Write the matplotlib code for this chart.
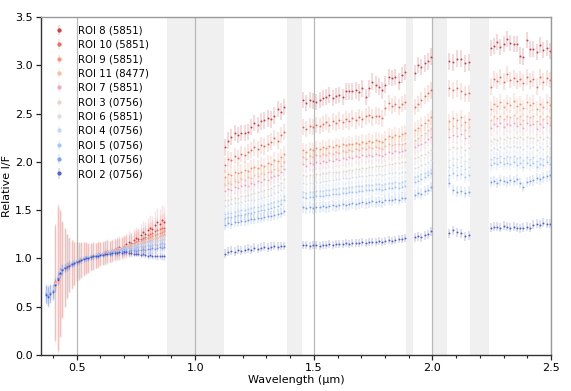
import numpy as np
import matplotlib
matplotlib.use("Agg")
import matplotlib.pyplot as plt
from matplotlib.ticker import MultipleLocator, FormatStrFormatter
from matplotlib.colors import to_rgba

# ---------------- data ----------------
labels = ["ROI 8 (5851)", "ROI 10 (5851)", "ROI 9 (5851)", "ROI 11 (8477)", "ROI 7 (5851)",
          "ROI 3 (0756)", "ROI 6 (5851)", "ROI 4 (0756)", "ROI 5 (0756)", "ROI 1 (0756)", "ROI 2 (0756)"]
colors = ["#c8232f", "#ea5a48", "#f5875f", "#f8b596", "#eb9fb6",
          "#e0d2ca", "#d3d9e4", "#bcd0f0", "#9bbcf6", "#6a93ee", "#3a4cc6"]
vis_group = ["red", "red", "red", "red", "red", "blue", "red", "blue", "blue", "blue", "blue"]

# visible wavelength grids (µm)
wl_vis_blue = np.round(np.arange(0.37, 0.875, 0.01), 2)   # 51 pts
wl_vis_red = np.round(np.arange(0.41, 0.875, 0.01), 2)    # 47 pts
# near-IR wavelength grid (µm), five windows between telluric bands
wl_nir = np.concatenate([np.linspace(1.125, 1.375, 19), np.linspace(1.455, 1.885, 32),
                         np.linspace(1.925, 1.995, 6), np.linspace(2.07, 2.155, 6),
                         np.linspace(2.245, 2.495, 19)])

bands = [(0.88, 1.12), (1.387, 1.45), (1.89, 1.92), (2.0, 2.062), (2.16, 2.24)]

roi8_vis = [0.74, 0.78, 0.84, 0.88, 0.91, 0.92, 0.94, 0.93, 0.95, 0.97,
            0.98, 0.99, 1.00, 1.01, 1.00, 1.02, 1.03, 1.03, 1.05, 1.05,
            1.06, 1.07, 1.08, 1.07, 1.09, 1.10, 1.11, 1.12, 1.11, 1.13,
            1.15, 1.17, 1.16, 1.19, 1.21, 1.20, 1.24, 1.27, 1.25, 1.29,
            1.32, 1.30, 1.35, 1.38, 1.36, 1.40, 1.38]
roi10_vis = [0.76, 0.80, 0.85, 0.89, 0.90, 0.92, 0.93, 0.94, 0.95, 0.97,
             0.97, 0.99, 1.00, 1.00, 1.01, 1.02, 1.02, 1.03, 1.04, 1.05,
             1.05, 1.06, 1.07, 1.07, 1.08, 1.09, 1.10, 1.10, 1.11, 1.12,
             1.13, 1.14, 1.15, 1.16, 1.17, 1.18, 1.20, 1.21, 1.22, 1.24,
             1.25, 1.26, 1.28, 1.29, 1.30, 1.31, 1.32]
roi9_vis = [0.77, 0.81, 0.86, 0.89, 0.91, 0.92, 0.93, 0.95, 0.96, 0.97,
            0.98, 0.99, 1.00, 1.01, 1.01, 1.02, 1.03, 1.03, 1.04, 1.05,
            1.05, 1.06, 1.07, 1.07, 1.08, 1.09, 1.09, 1.10, 1.11, 1.12,
            1.12, 1.13, 1.14, 1.15, 1.16, 1.17, 1.18, 1.19, 1.20, 1.21,
            1.22, 1.23, 1.24, 1.25, 1.26, 1.27, 1.28]
roi11_vis = [0.70, 0.76, 0.83, 0.88, 0.90, 0.92, 0.93, 0.94, 0.95, 0.96,
             0.97, 0.98, 0.99, 1.00, 1.01, 1.01, 1.02, 1.03, 1.03, 1.04,
             1.05, 1.05, 1.06, 1.07, 1.07, 1.08, 1.09, 1.09, 1.10, 1.11,
             1.11, 1.12, 1.13, 1.14, 1.14, 1.15, 1.16, 1.17, 1.17, 1.18,
             1.19, 1.20, 1.20, 1.21, 1.22, 1.23, 1.24]
roi7_vis = [0.75, 0.80, 0.85, 0.88, 0.90, 0.91, 0.93, 0.94, 0.95, 0.96,
            0.97, 0.98, 0.99, 1.00, 1.00, 1.01, 1.02, 1.03, 1.03, 1.04,
            1.05, 1.05, 1.06, 1.06, 1.07, 1.08, 1.08, 1.09, 1.10, 1.10,
            1.11, 1.12, 1.13, 1.13, 1.14, 1.15, 1.16, 1.17, 1.18, 1.18,
            1.19, 1.20, 1.21, 1.22, 1.23, 1.24, 1.25]
roi3_vis = [0.66, 0.64, 0.67, 0.69, 0.75, 0.81, 0.87, 0.90, 0.92, 0.93,
            0.94, 0.95, 0.97, 0.98, 0.99, 1.00, 1.01, 1.01, 1.02, 1.03,
            1.04, 1.04, 1.05, 1.06, 1.07, 1.07, 1.08, 1.09, 1.09, 1.10,
            1.11, 1.11, 1.12, 1.13, 1.13, 1.14, 1.15, 1.15, 1.16, 1.17,
            1.17, 1.18, 1.19, 1.19, 1.20, 1.20, 1.21, 1.22, 1.22, 1.23,
            1.23]
roi6_vis = [0.75, 0.80, 0.85, 0.88, 0.90, 0.91, 0.92, 0.93, 0.95, 0.96,
            0.97, 0.97, 0.98, 0.99, 1.00, 1.01, 1.01, 1.02, 1.03, 1.03,
            1.04, 1.05, 1.05, 1.06, 1.06, 1.07, 1.08, 1.08, 1.09, 1.09,
            1.10, 1.11, 1.11, 1.12, 1.13, 1.13, 1.14, 1.15, 1.15, 1.16,
            1.17, 1.17, 1.18, 1.18, 1.19, 1.20, 1.20]
roi4_vis = [0.65, 0.63, 0.66, 0.68, 0.74, 0.81, 0.86, 0.89, 0.91, 0.93,
            0.94, 0.95, 0.96, 0.97, 0.98, 0.99, 1.00, 1.01, 1.02, 1.02,
            1.03, 1.04, 1.04, 1.05, 1.06, 1.06, 1.07, 1.08, 1.08, 1.09,
            1.09, 1.10, 1.11, 1.11, 1.12, 1.12, 1.13, 1.13, 1.14, 1.15,
            1.15, 1.16, 1.16, 1.17, 1.17, 1.18, 1.18, 1.19, 1.19, 1.20,
            1.20]
roi5_vis = [0.64, 0.62, 0.65, 0.67, 0.74, 0.80, 0.86, 0.89, 0.91, 0.92,
            0.93, 0.94, 0.96, 0.97, 0.98, 0.99, 1.00, 1.00, 1.01, 1.02,
            1.02, 1.03, 1.04, 1.04, 1.05, 1.06, 1.06, 1.07, 1.07, 1.08,
            1.08, 1.09, 1.09, 1.10, 1.10, 1.11, 1.11, 1.11, 1.12, 1.12,
            1.13, 1.12, 1.13, 1.14, 1.13, 1.14, 1.15, 1.14, 1.15, 1.16,
            1.15]
roi1_vis = [0.63, 0.61, 0.64, 0.66, 0.73, 0.80, 0.85, 0.89, 0.90, 0.92,
            0.93, 0.94, 0.95, 0.96, 0.97, 0.98, 0.99, 1.00, 1.00, 1.01,
            1.02, 1.02, 1.03, 1.04, 1.04, 1.05, 1.05, 1.06, 1.06, 1.07,
            1.07, 1.07, 1.08, 1.08, 1.08, 1.08, 1.09, 1.09, 1.08, 1.09,
            1.09, 1.10, 1.09, 1.10, 1.10, 1.11, 1.10, 1.11, 1.12, 1.11,
            1.12]
roi2_vis = [0.62, 0.60, 0.63, 0.65, 0.72, 0.79, 0.85, 0.88, 0.90, 0.91,
            0.92, 0.94, 0.95, 0.96, 0.97, 0.98, 0.99, 1.00, 1.00, 1.01,
            1.02, 1.02, 1.03, 1.04, 1.04, 1.05, 1.05, 1.05, 1.06, 1.06,
            1.06, 1.07, 1.06, 1.07, 1.07, 1.06, 1.06, 1.05, 1.05, 1.05,
            1.04, 1.05, 1.04, 1.03, 1.04, 1.03, 1.03, 1.02, 1.03, 1.02,
            1.02]

roi8_nir = [2.15, 2.22, 2.26, 2.30, 2.28, 2.30, 2.30, 2.31, 2.36, 2.40, 2.38, 2.42, 2.43, 2.45, 2.44, 2.48, 2.55, 2.52, 2.57,
            2.64, 2.61, 2.64, 2.63, 2.62, 2.64, 2.66, 2.67, 2.69, 2.66, 2.68, 2.69, 2.67, 2.73, 2.73, 2.73,
            2.74, 2.72, 2.76, 2.67, 2.76, 2.83, 2.80, 2.78, 2.74, 2.80, 2.88, 2.87, 2.88, 2.83, 2.90, 2.93,
            2.92, 3.00, 2.98, 3.02, 3.04, 3.09,
            3.04, 3.03, 3.07, 3.07, 3.02, 3.03,
            3.18, 3.20, 3.24, 3.19, 3.22, 3.27, 3.23, 3.22, 3.22, 3.10, 3.09, 3.26, 3.17, 3.17, 3.14, 3.21, 3.16, 3.18, 3.15]
roi10_nir = [1.97, 2.03, 2.02, 2.06, 2.04, 2.08, 2.07, 2.10, 2.12, 2.15, 2.13, 2.17, 2.16, 2.19, 2.21, 2.25, 2.22, 2.28, 2.31,
             2.36, 2.34, 2.37, 2.36, 2.38, 2.37, 2.39, 2.41, 2.38, 2.42, 2.40, 2.43, 2.41, 2.44, 2.42, 2.45,
             2.43, 2.46, 2.44, 2.47, 2.49, 2.46, 2.48, 2.47, 2.45, 2.56, 2.61, 2.58, 2.60, 2.57, 2.60, 2.62,
             2.57, 2.60, 2.64, 2.68, 2.71, 2.74,
             2.76, 2.74, 2.76, 2.73, 2.70, 2.71,
             2.78, 2.86, 2.84, 2.88, 2.83, 2.91, 2.85, 2.87, 2.84, 2.86, 2.82, 2.88, 2.84, 2.86, 2.78, 2.88, 2.83, 2.87, 2.85]
roi9_nir = [1.84, 1.87, 1.86, 1.89, 1.88, 1.90, 1.92, 1.91, 1.94, 1.95, 1.94, 1.97, 1.96, 1.99, 1.98, 2.02, 2.01, 2.05, 2.08,
            2.12, 2.10, 2.13, 2.12, 2.14, 2.13, 2.15, 2.14, 2.16, 2.15, 2.17, 2.16, 2.18, 2.17, 2.19, 2.18,
            2.20, 2.19, 2.21, 2.20, 2.22, 2.21, 2.23, 2.22, 2.21, 2.24, 2.27, 2.26, 2.28, 2.27, 2.29, 2.30,
            2.33, 2.35, 2.38, 2.40, 2.43, 2.46,
            2.42, 2.45, 2.43, 2.46, 2.41, 2.44,
            2.55, 2.60, 2.58, 2.62, 2.57, 2.61, 2.59, 2.63, 2.58, 2.60, 2.56, 2.62, 2.59, 2.61, 2.55, 2.60, 2.57, 2.62, 2.59]
roi11_nir = [1.76, 1.78, 1.77, 1.80, 1.79, 1.82, 1.81, 1.84, 1.83, 1.86, 1.85, 1.88, 1.87, 1.90, 1.89, 1.93, 1.92, 1.96, 2.00,
             2.05, 2.03, 2.06, 2.05, 2.07, 2.06, 2.08, 2.07, 2.09, 2.08, 2.10, 2.09, 2.11, 2.10, 2.12, 2.11,
             2.13, 2.12, 2.14, 2.13, 2.15, 2.14, 2.15, 2.14, 2.13, 2.16, 2.18, 2.17, 2.19, 2.18, 2.19, 2.20,
             2.23, 2.25, 2.28, 2.30, 2.33, 2.35,
             2.34, 2.37, 2.35, 2.38, 2.33, 2.36,
             2.43, 2.47, 2.45, 2.48, 2.44, 2.47, 2.46, 2.49, 2.45, 2.47, 2.43, 2.48, 2.46, 2.47, 2.42, 2.47, 2.44, 2.48, 2.46]
roi7_nir = [1.70, 1.72, 1.71, 1.74, 1.73, 1.75, 1.76, 1.75, 1.78, 1.77, 1.80, 1.79, 1.82, 1.81, 1.84, 1.85, 1.86, 1.89, 1.93,
            1.98, 1.96, 1.99, 1.98, 2.00, 1.99, 2.01, 2.00, 2.02, 2.01, 2.03, 2.02, 2.04, 2.03, 2.05, 2.04,
            2.06, 2.05, 2.07, 2.06, 2.07, 2.06, 2.08, 2.07, 2.06, 2.08, 2.10, 2.09, 2.11, 2.10, 2.11, 2.12,
            2.15, 2.17, 2.19, 2.21, 2.24, 2.26,
            2.26, 2.28, 2.27, 2.29, 2.25, 2.27,
            2.35, 2.39, 2.37, 2.40, 2.36, 2.39, 2.38, 2.40, 2.37, 2.39, 2.35, 2.40, 2.38, 2.39, 2.34, 2.39, 2.36, 2.40, 2.38]
roi3_nir = [1.60, 1.61, 1.62, 1.63, 1.63, 1.65, 1.65, 1.66, 1.67, 1.68, 1.69, 1.70, 1.71, 1.72, 1.73, 1.75, 1.76, 1.78, 1.82,
            1.86, 1.85, 1.86, 1.86, 1.87, 1.87, 1.88, 1.88, 1.89, 1.89, 1.90, 1.90, 1.91, 1.91, 1.92, 1.92,
            1.93, 1.93, 1.94, 1.94, 1.95, 1.95, 1.96, 1.96, 1.96, 1.97, 1.98, 1.98, 1.99, 1.99, 2.00, 2.00,
            2.04, 2.05, 2.07, 2.08, 2.10, 2.12,
            2.13, 2.15, 2.14, 2.15, 2.12, 2.14,
            2.22, 2.24, 2.23, 2.25, 2.24, 2.26, 2.25, 2.26, 2.25, 2.26, 2.24, 2.26, 2.25, 2.25, 2.23, 2.26, 2.24, 2.26, 2.25]
roi6_nir = [1.54, 1.55, 1.56, 1.57, 1.57, 1.58, 1.59, 1.60, 1.60, 1.61, 1.62, 1.63, 1.64, 1.65, 1.66, 1.68, 1.69, 1.71, 1.74,
            1.78, 1.77, 1.78, 1.78, 1.79, 1.79, 1.80, 1.80, 1.81, 1.81, 1.82, 1.82, 1.83, 1.83, 1.83, 1.84,
            1.84, 1.85, 1.85, 1.85, 1.86, 1.86, 1.86, 1.87, 1.86, 1.87, 1.88, 1.88, 1.89, 1.88, 1.89, 1.90,
            1.94, 1.95, 1.97, 1.98, 2.00, 2.02,
            2.02, 2.04, 2.03, 2.05, 2.01, 2.03,
            2.12, 2.14, 2.13, 2.15, 2.14, 2.16, 2.15, 2.16, 2.15, 2.15, 2.13, 2.16, 2.14, 2.15, 2.12, 2.15, 2.13, 2.16, 2.14]
roi4_nir = [1.46, 1.47, 1.47, 1.48, 1.49, 1.50, 1.50, 1.51, 1.52, 1.53, 1.53, 1.54, 1.55, 1.56, 1.57, 1.58, 1.59, 1.61, 1.65,
            1.69, 1.68, 1.69, 1.69, 1.70, 1.70, 1.70, 1.71, 1.71, 1.72, 1.72, 1.73, 1.73, 1.73, 1.74, 1.74,
            1.75, 1.75, 1.75, 1.76, 1.76, 1.76, 1.77, 1.77, 1.76, 1.77, 1.78, 1.78, 1.79, 1.78, 1.79, 1.80,
            1.84, 1.85, 1.87, 1.88, 1.90, 1.92,
            1.95, 1.97, 1.95, 1.96, 1.93, 1.95,
            2.03, 2.05, 2.04, 2.06, 2.04, 2.06, 2.05, 2.06, 2.04, 2.05, 2.02, 2.05, 2.03, 2.05, 2.01, 2.04, 2.03, 2.06, 2.05]
roi5_nir = [1.42, 1.43, 1.43, 1.44, 1.45, 1.45, 1.46, 1.47, 1.47, 1.48, 1.49, 1.50, 1.50, 1.51, 1.52, 1.53, 1.54, 1.56, 1.60,
            1.64, 1.63, 1.64, 1.64, 1.65, 1.65, 1.65, 1.66, 1.66, 1.67, 1.67, 1.67, 1.68, 1.68, 1.69, 1.69,
            1.69, 1.70, 1.70, 1.71, 1.71, 1.71, 1.72, 1.72, 1.71, 1.72, 1.73, 1.73, 1.74, 1.73, 1.74, 1.75,
            1.79, 1.80, 1.82, 1.84, 1.86, 1.88,
            1.86, 1.88, 1.86, 1.87, 1.84, 1.86,
            1.97, 1.99, 1.98, 2.00, 1.98, 1.99, 1.98, 2.00, 1.97, 1.99, 1.95, 1.99, 1.97, 1.99, 1.95, 1.98, 1.97, 2.00, 1.98]
roi1_nir = [1.35, 1.37, 1.36, 1.38, 1.38, 1.39, 1.39, 1.40, 1.41, 1.41, 1.42, 1.42, 1.43, 1.44, 1.44, 1.45, 1.46, 1.47, 1.49,
            1.53, 1.52, 1.53, 1.52, 1.53, 1.53, 1.54, 1.53, 1.54, 1.55, 1.54, 1.55, 1.56, 1.55, 1.56, 1.57,
            1.56, 1.57, 1.58, 1.57, 1.58, 1.59, 1.58, 1.59, 1.58, 1.60, 1.61, 1.60, 1.62, 1.61, 1.63, 1.63,
            1.66, 1.68, 1.67, 1.70, 1.71, 1.74,
            1.78, 1.71, 1.69, 1.70, 1.68, 1.69,
            1.79, 1.80, 1.78, 1.81, 1.80, 1.79, 1.81, 1.80, 1.82, 1.78, 1.74, 1.79, 1.80, 1.81, 1.83, 1.82, 1.84, 1.85, 1.86]
roi2_nir = [1.05, 1.07, 1.08, 1.07, 1.09, 1.08, 1.09, 1.10, 1.09, 1.11, 1.10, 1.11, 1.12, 1.11, 1.12, 1.13, 1.12, 1.13, 1.13,
            1.14, 1.14, 1.13, 1.14, 1.14, 1.13, 1.14, 1.14, 1.15, 1.14, 1.15, 1.15, 1.15, 1.16, 1.15, 1.16,
            1.16, 1.16, 1.17, 1.16, 1.17, 1.17, 1.17, 1.18, 1.17, 1.18, 1.19, 1.18, 1.19, 1.20, 1.20, 1.21,
            1.22, 1.23, 1.22, 1.24, 1.25, 1.28,
            1.26, 1.29, 1.27, 1.26, 1.23, 1.24,
            1.32, 1.33, 1.33, 1.32, 1.34, 1.33, 1.32, 1.33, 1.32, 1.31, 1.32, 1.33, 1.32, 1.35, 1.36, 1.35, 1.37, 1.36, 1.36]

# uncertainties
err_vis_blue = [0.09, 0.10, 0.09, 0.08, 0.07, 0.06, 0.05, 0.05, 0.04, 0.04,
                0.04, 0.03, 0.03, 0.03, 0.03, 0.03, 0.03, 0.03, 0.03, 0.03,
                0.03, 0.03, 0.03, 0.03, 0.03, 0.03, 0.03, 0.03, 0.03, 0.03,
                0.03, 0.03, 0.03, 0.03, 0.03, 0.03, 0.03, 0.03, 0.03, 0.03,
                0.04, 0.04, 0.04, 0.04, 0.04, 0.04, 0.04, 0.04, 0.04, 0.04,
                0.04]
err_vis_red = [0.60, 0.75, 0.65, 0.50, 0.40, 0.33, 0.28, 0.25, 0.22, 0.20,
               0.19, 0.18, 0.17, 0.16, 0.15, 0.14, 0.14, 0.13, 0.13, 0.12,
               0.12, 0.12, 0.12, 0.11, 0.11, 0.11, 0.11, 0.11, 0.11, 0.11,
               0.11, 0.11, 0.11, 0.11, 0.12, 0.12, 0.12, 0.12, 0.13, 0.13,
               0.13, 0.14, 0.14, 0.14, 0.15, 0.15, 0.15]
err_nir = [0.085, 0.085, 0.08, 0.075, 0.08, 0.07, 0.07, 0.06, 0.06, 0.055, 0.045]

vis_values = [roi8_vis, roi10_vis, roi9_vis, roi11_vis, roi7_vis, roi3_vis,
              roi6_vis, roi4_vis, roi5_vis, roi1_vis, roi2_vis]
nir_values = [roi8_nir, roi10_nir, roi9_nir, roi11_nir, roi7_nir, roi3_nir,
              roi6_nir, roi4_nir, roi5_nir, roi1_nir, roi2_nir]

# ---------------- plot ----------------
plt.rcParams['font.family'] = ['DejaVu Sans']
fig = plt.figure(figsize=(5.71, 3.91), dpi=100)
ax = fig.add_axes([41/571, 1-355/391, 510/571, 338/391])

for a, b in bands:
    ax.axvspan(a, b, color='#f0f0f0', lw=0, zorder=0.5)

ax.set_xlim(0.35, 2.5)
ax.set_ylim(0, 3.5)
ax.xaxis.grid(True, which='major', color='#b8b8b8', lw=0.9, zorder=0.8)
ax.set_axisbelow(True)

handles = []
for lab, col, grp, v, n, en in zip(labels, colors, vis_group, vis_values, nir_values, err_nir):
    wl_v = wl_vis_red if grp == "red" else wl_vis_blue
    ev = err_vis_red if grp == "red" else err_vis_blue
    mcol = to_rgba(col, 0.85)
    ax.errorbar(wl_v, v, yerr=ev, fmt='o', ms=1.4, mec='none', mfc=mcol,
                ecolor=to_rgba(col, 0.13 if grp == "red" else 0.2), elinewidth=1.0,
                capsize=0, zorder=2)
    h = ax.errorbar(wl_nir, n, yerr=en, fmt='o', ms=1.4, mec='none', mfc=mcol,
                    ecolor=to_rgba(col, 0.22), elinewidth=1.1, capsize=0, zorder=2, label=lab)
    handles.append(h)

leg = ax.legend(handles=handles, loc='upper left', frameon=False, fontsize=7.3,
                markerscale=2.2, handlelength=1.3, handletextpad=1.25,
                labelspacing=0.43, borderaxespad=0.2, bbox_to_anchor=(0.01, 0.993))

ax.xaxis.set_major_locator(MultipleLocator(0.5))
ax.xaxis.set_minor_locator(MultipleLocator(0.1))
ax.yaxis.set_major_locator(MultipleLocator(0.5))
ax.tick_params(axis='both', which='major', labelsize=8, length=3.5, width=0.9, color='#222222', pad=2.5)
ax.tick_params(axis='x', which='minor', length=2, width=0.8, color='#222222')
ax.xaxis.set_major_formatter(FormatStrFormatter('%.1f'))
ax.yaxis.set_major_formatter(FormatStrFormatter('%.1f'))

for s in ['left', 'bottom']:
    ax.spines[s].set_color('#333333')
    ax.spines[s].set_linewidth(1.0)
for s in ['top', 'right']:
    ax.spines[s].set_color('#999999')
    ax.spines[s].set_linewidth(1.0)

ax.set_xlabel('Wavelength (µm)', fontsize=8, labelpad=1)
ax.set_ylabel('Relative I/F', fontsize=8, labelpad=2)

fig.savefig('out.png', dpi=100)
